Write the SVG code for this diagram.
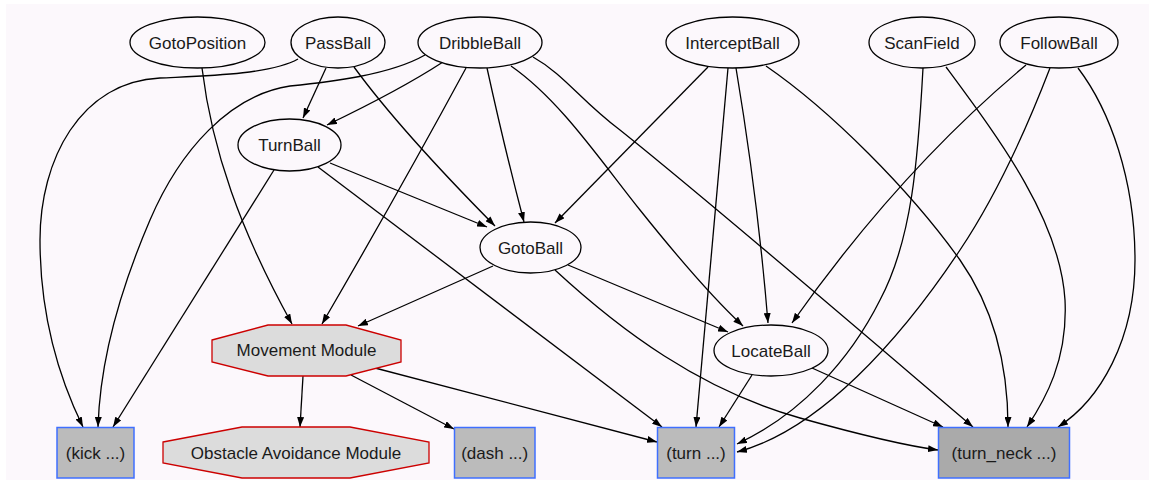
<svg xmlns="http://www.w3.org/2000/svg" width="1149" height="480" viewBox="0 0 1149 480">
  <style>
    text { font-family: "Liberation Sans", Arial, sans-serif; font-size: 17px; fill: #1a1a1a; text-anchor: middle; }
    .behav ellipse { fill: #fcf8fc; stroke: #000; stroke-width: 1.3; }
    .module polygon { fill: #dcdcdc; stroke: #cc0000; stroke-width: 1.3; }
    .cmd rect { fill: #bbbbbb; stroke: #3f6fff; stroke-width: 1.5; }
    .cmd.dark rect { fill: #aaaaaa; }
    #edges path { fill: none; stroke: #000; stroke-width: 1.3; marker-end: url(#arrow); }
  </style>
  <defs>
    <marker id="arrow" viewBox="0 0 10 7" markerWidth="10" markerHeight="7" refX="10" refY="3.5" orient="auto" markerUnits="userSpaceOnUse">
      <path d="M0,0 L10,3.5 L0,7 Z" fill="#000"/>
    </marker>
  </defs>

  <rect x="0" y="0" width="1149" height="480" fill="#ffffff"/>
  <rect x="6" y="4" width="1143" height="476" fill="#fcf8fc"/>

  <!-- connectors -->
  <g id="edges">
    <!-- GotoPosition -->
    <path d="M202,68 C212,150 240,230 292,324"/>
    <!-- PassBall -->
    <path d="M298,59 C270,75 200,76 160,78 C80,82 40,160 40,240 C40,320 60,380 83,427"/>
    <path d="M326,68 L303,118"/>
    <path d="M354,67 Q400,130 495,226"/>
    <!-- DribbleBall -->
    <path d="M425,55 C390,75 330,82 290,86 C230,95 180,150 150,220 C120,290 100,360 98,427"/>
    <path d="M443,62 Q400,90 327,125"/>
    <path d="M466,68 Q400,190 322,324"/>
    <path d="M487,68 Q505,150 524,222"/>
    <path d="M511,66 C560,100 600,160 640,210 C680,260 715,300 743,326"/>
    <path d="M533,57 C565,75 580,100 620,130 C720,210 900,365 973,427"/>
    <!-- TurnBall -->
    <path d="M274,170 L113,427"/>
    <path d="M330,163 L487,227"/>
    <path d="M318,167 L662,427"/>
    <!-- InterceptBall -->
    <path d="M708,67 L555,223"/>
    <path d="M728,68 Q712,250 696,427"/>
    <path d="M736,68 Q758,200 768,323"/>
    <path d="M766,66 C830,110 910,190 960,260 C995,310 1008,370 1008,427"/>
    <!-- ScanField -->
    <path d="M923,68 C918,160 912,240 880,300 C850,360 800,415 737,444"/>
    <path d="M946,67 C1000,140 1060,220 1065,300 C1068,360 1045,400 1027,427"/>
    <!-- FollowBall -->
    <path d="M1026,65 Q900,170 792,323"/>
    <path d="M1050,68 C1030,120 1000,190 960,250 C900,340 820,430 737,452"/>
    <path d="M1078,68 C1110,110 1135,180 1135,260 C1135,340 1100,400 1058,427"/>
    <!-- GotoBall -->
    <path d="M493,266 L358,326"/>
    <path d="M568,265 L728,332"/>
    <path d="M555,270 C620,330 700,390 800,418 C850,432 900,445 938,450"/>
    <!-- LocateBall -->
    <path d="M752,375 L719,427"/>
    <path d="M812,368 L943,427"/>
    <!-- Movement Module -->
    <path d="M303,376 L300,427"/>
    <path d="M351,375 L454,429"/>
    <path d="M375,368 L657,442"/>
  </g>

  <!-- behaviour nodes -->
  <g id="GotoPosition" class="behav"><ellipse cx="197.5" cy="42.5" rx="67.5" ry="25.5"/><text x="197.5" y="48.5">GotoPosition</text></g>
  <g id="PassBall" class="behav"><ellipse cx="338" cy="42.5" rx="47" ry="25.5"/><text x="338" y="48.5">PassBall</text></g>
  <g id="DribbleBall" class="behav"><ellipse cx="480" cy="42.5" rx="62" ry="25.5"/><text x="480" y="48.5">DribbleBall</text></g>
  <g id="InterceptBall" class="behav"><ellipse cx="732.5" cy="42.5" rx="66.5" ry="25.5"/><text x="732.5" y="48.5">InterceptBall</text></g>
  <g id="ScanField" class="behav"><ellipse cx="922" cy="42.5" rx="53" ry="25.5"/><text x="922" y="48.5">ScanField</text></g>
  <g id="FollowBall" class="behav"><ellipse cx="1059" cy="42.5" rx="59" ry="25.5"/><text x="1059" y="48.5">FollowBall</text></g>
  <g id="TurnBall" class="behav"><ellipse cx="289.5" cy="145" rx="51.5" ry="26"/><text x="289.5" y="151">TurnBall</text></g>
  <g id="GotoBall" class="behav"><ellipse cx="530.5" cy="247.5" rx="50.5" ry="25.5"/><text x="530.5" y="253.5">GotoBall</text></g>
  <g id="LocateBall" class="behav"><ellipse cx="771" cy="350.5" rx="57" ry="25.5"/><text x="771" y="356.5">LocateBall</text></g>

  <!-- modules -->
  <g id="MovementModule" class="module">
    <polygon points="212,340 268,325 346,325 401,340 401,362 346,376 268,376 212,362"/>
    <text x="306.5" y="356">Movement Module</text>
  </g>
  <g id="ObstacleAvoidanceModule" class="module">
    <polygon points="163,442 242,427 350,427 429,442 429,463 350,478 242,478 163,463"/>
    <text x="296" y="458.5">Obstacle Avoidance Module</text>
  </g>

  <!-- commands -->
  <g id="kick" class="cmd"><rect x="57" y="427.5" width="77" height="50.5"/><text x="95.5" y="458.5">(kick ...)</text></g>
  <g id="dash" class="cmd"><rect x="454.5" y="427.5" width="80.5" height="50.5"/><text x="494.7" y="458.5">(dash ...)</text></g>
  <g id="turn" class="cmd"><rect x="657.5" y="427.5" width="77" height="50.5"/><text x="696" y="458.5">(turn ...)</text></g>
  <g id="turn_neck" class="cmd dark"><rect x="938.5" y="427.5" width="131" height="50.5"/><text x="1004" y="458.5">(turn_neck ...)</text></g>
</svg>
